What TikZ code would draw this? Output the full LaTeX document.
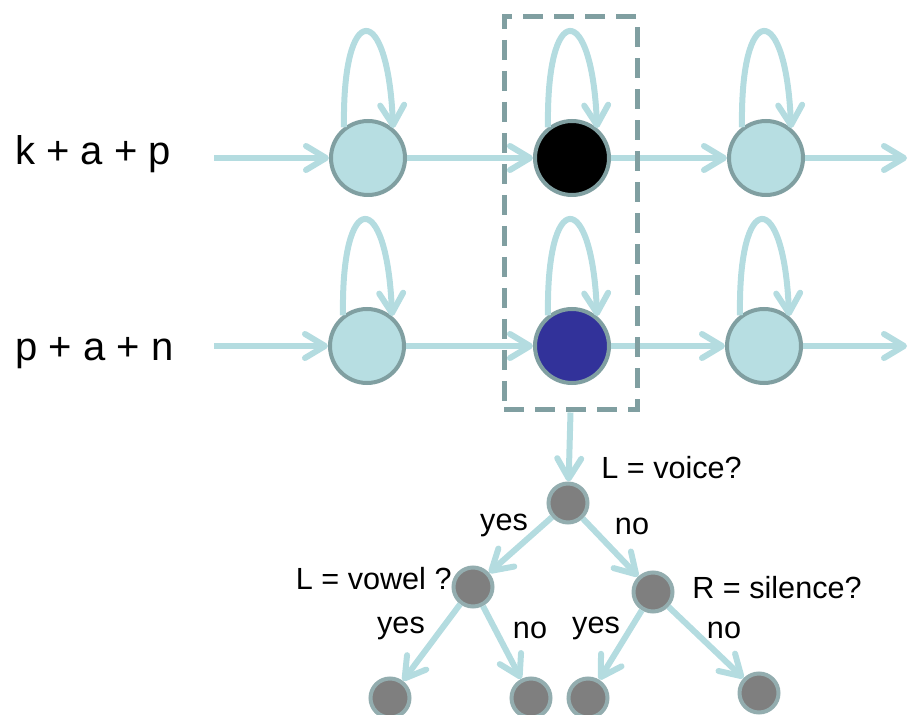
\documentclass[tikz,border=0pt]{standalone}
\usepackage{fontspec}
\setmainfont{Liberation Sans}
\usetikzlibrary{arrows.meta}

\definecolor{statefill}{HTML}{B7DEE2}
\definecolor{stateedge}{HTML}{809FA1}
\definecolor{flowcol}{HTML}{B4DCE0}
\definecolor{darkblue}{HTML}{32329A}
\definecolor{qgray}{HTML}{7F7F7F}

\begin{document}
\begin{tikzpicture}[x=0.5pt, y=-0.5pt,
		> = {Straight Barb[length=10pt, width=12pt, round]},
		state/.style = {circle, draw=stateedge, line width=2pt, fill=statefill, minimum size=37pt, inner sep=0pt},
		qnode/.style = {circle, draw=stateedge!85, line width=2pt, fill=qgray, minimum size=19.5pt, inner sep=0pt},
		flow/.style = {->, draw=flowcol, line width=3pt},
		lab/.style = {font=\fontsize{20}{20}\selectfont, inner sep=0pt, anchor=base west},
		qlab/.style = {font=\fontsize{15.3}{16}\selectfont, inner sep=0pt, anchor=base}]
			\useasboundingbox (0,0) rectangle (909,715);
			
			% the two words
			\node [lab] (w1) at (15,165) {k + a + p};
			\node [lab] (w2) at (15,361) {p + a + n};
			\coordinate (in1) at (214,158);
			\coordinate (in2) at (214,346);
			\coordinate (out1) at (907,158);
			\coordinate (out2) at (907,346);
			
			% states
			\node [state] (s11) at (368,158) {};
			\node [state, fill=black] (s12) at (572,158) {};
			\node [state] (s13) at (766,158) {};
			\node [state] (s21) at (367,346) {};
			\node [state, fill=darkblue] (s22) at (572,346) {};
			\node [state] (s23) at (764,346) {};
			
			\draw [flow] (in1) -- (s11);
			\draw [flow] (s11) -- (s12);
			\draw [flow] (s12) -- (s13);
			\draw [flow] (s13) -- (out1);
			
			\draw [flow] (in2) -- (s21);
			\draw [flow] (s21) -- (s22);
			\draw [flow] (s22) -- (s23);
			\draw [flow] (s23) -- (out2);
			
			\foreach \s in {s11, s12, s13, s21, s22, s23}
				\draw [flow] (\s.128) .. controls +(-2,-128) and +(-5,-128) .. (\s.50);
			
			% middle column
			\node [draw=stateedge, line width=2.5pt, dash pattern=on 10pt off 5.5pt,
				minimum width=66.5pt, minimum height=196.5pt, inner sep=0pt] (col) at (570.5,213.5) {};
			
			% decision tree
			\node [qnode] (root) at (568,503) {};
			\node [qnode] (q1) at (473,587) {};
			\node [qnode] (q2) at (653,592) {};
			\node [qnode] (q11) at (390,698) {};
			\node [qnode] (q12) at (531,698) {};
			\node [qnode] (q21) at (588,698) {};
			\node [qnode] (q22) at (759,693) {};
			
			\draw [flow] (col.south) -- (root);
			\draw [flow] (root) -- (q1);
			\draw [flow] (root) -- (q2);
			\draw [flow] (q1) -- (q11);
			\draw [flow] (q1) -- (q12);
			\draw [flow] (q2) -- (q21);
			\draw [flow] (q2) -- (q22);
			
			\node [qlab, anchor=base west] (t0) at (601,479) {L = voice?};
			\node [qlab, anchor=base east] (t1) at (452,589) {L = vowel ?};
			\node [qlab, anchor=base west] (t2) at (692,598) {R = silence?};
			
			\node [qlab] (y0) at (504,530) {yes};
			\node [qlab] (n0) at (632,534) {no};
			\node [qlab] (y1) at (401,633) {yes};
			\node [qlab] (n1) at (530,638) {no};
			\node [qlab] (y2) at (596,633) {yes};
			\node [qlab] (n2) at (724,638) {no};
		\end{tikzpicture}
\end{document}
